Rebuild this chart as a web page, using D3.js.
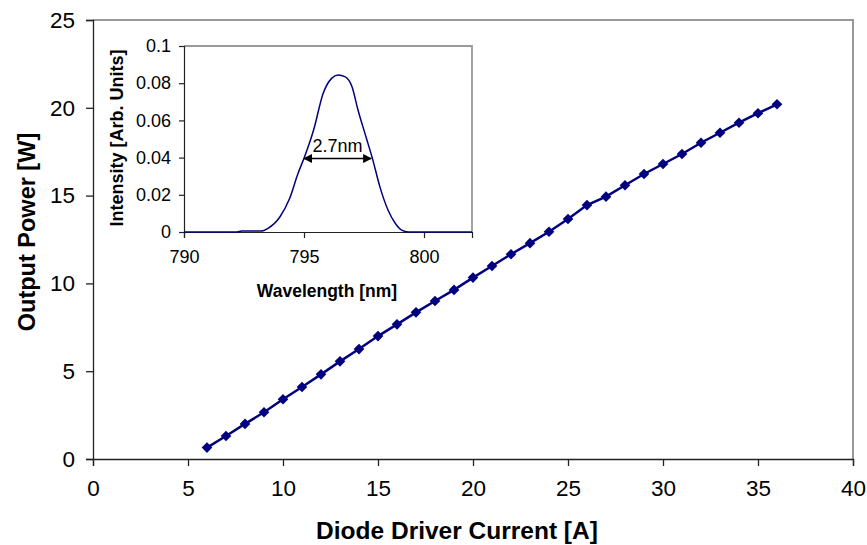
<!DOCTYPE html>
<html>
<head>
<meta charset="utf-8">
<script src="https://cdn.jsdelivr.net/npm/d3@7"></script>
<style>
  html, body { margin: 0; padding: 0; background: #fff; }
  svg { display: block; font-family: "Liberation Sans", Arial, sans-serif; }
</style>
</head>
<body>
<svg id="chart" width="867" height="545"></svg>
<script>
// Output power versus diode driver current
const current = [6, 7, 8, 9, 10, 11, 12, 13, 14, 15, 16, 17, 18, 19, 20, 21,
                 22, 23, 24, 25, 26, 27, 28, 29, 30, 31, 32, 33, 34, 35, 36];
const power = [0.65, 1.31, 2.0, 2.66, 3.4, 4.1, 4.82, 5.56, 6.26, 7.0, 7.67, 8.35,
               9.0, 9.63, 10.33, 10.99, 11.66, 12.29, 12.94, 13.67, 14.46, 14.94,
               15.59, 16.23, 16.8, 17.37, 18.01, 18.58, 19.15, 19.69, 20.2];
const xTicks = [0, 5, 10, 15, 20, 25, 30, 35, 40];
const yTicks = [0, 5, 10, 15, 20, 25];

// Emission spectrum (inset)
const wavelength = [790, 792.2, 792.4, 793.2, 793.5, 794.0, 794.4, 794.75, 795.0,
                    795.4, 795.8, 796.15, 796.42, 796.7, 797.0, 797.25, 797.6,
                    797.85, 798.16, 798.5, 798.8, 799.07, 799.35, 802];
const intensity = [0, 0, 0.0005, 0.0005, 0.002, 0.0082, 0.018, 0.0315, 0.0396,
                   0.0548, 0.0746, 0.0826, 0.0844, 0.0835, 0.0781, 0.0656, 0.0504,
                   0.0396, 0.0244, 0.0118, 0.0047, 0.001, 0, 0];
const insetXTicks = [790, 795, 800];
const insetYTicks = [0, 0.02, 0.04, 0.06, 0.08, 0.1];
const fwhm = { from: 795.0, to: 797.8, level: 0.0395, label: "2.7nm" };

const navy = "#000080";
const svg = d3.select("#chart");

// ---------- main plot ----------
const L = 93, R = 853, T = 20, B = 459;
const x = d3.scaleLinear().domain([0, 40]).range([L, R]);
const y = d3.scaleLinear().domain([0, 25]).range([B, T]);

// plot frame: gray top/right
svg.append("path")
  .attr("d", `M${L},${T}H${R}V${B}`)
  .attr("fill", "none").attr("stroke", "#999").attr("stroke-width", 2);

const xAxis = svg.append("g").attr("transform", `translate(0,${B})`)
  .call(d3.axisBottom(x).tickValues(xTicks).tickSize(7).tickPadding(14).tickFormat(d3.format("d")));
const yAxis = svg.append("g").attr("transform", `translate(${L},0)`)
  .call(d3.axisLeft(y).tickValues(yTicks).tickSize(7).tickPadding(11).tickFormat(d3.format("d")));
[xAxis, yAxis].forEach(g => {
  g.select(".domain").attr("stroke", "#222").attr("stroke-width", 1.3);
  g.selectAll(".tick line").attr("stroke", "#222").attr("stroke-width", 1.3);
  g.selectAll(".tick text").attr("fill", "#000").attr("font-size", 22.5)
    .attr("font-family", "'Liberation Sans', Arial, sans-serif");
});

svg.append("text")
  .attr("x", 457).attr("y", 539)
  .attr("text-anchor", "middle").attr("font-size", 24.5).attr("font-weight", "bold")
  .text("Diode Driver Current [A]");
svg.append("text")
  .attr("transform", `translate(35,232) rotate(-90)`)
  .attr("text-anchor", "middle").attr("font-size", 23.5).attr("font-weight", "bold")
  .text("Output Power [W]");

const pts = current.map((c, i) => [c, power[i]]);
svg.append("path")
  .datum(pts)
  .attr("fill", "none").attr("stroke", navy).attr("stroke-width", 2.5)
  .attr("d", d3.line().x(d => x(d[0])).y(d => y(d[1])));
svg.append("g").selectAll("path")
  .data(pts).enter().append("path")
  .attr("transform", d => `translate(${x(d[0])},${y(d[1])})`)
  .attr("d", d3.symbol().type(d3.symbolDiamond2).size(72))
  .attr("fill", navy);

// ---------- inset spectrum ----------
const iL = 184, iR = 472, iT = 46, iB = 232;
const ix = d3.scaleLinear().domain([790, 802]).range([iL, iR]);
const iy = d3.scaleLinear().domain([0, 0.1]).range([iB, iT]);

svg.append("rect").attr("x", iL).attr("y", iT).attr("width", iR - iL).attr("height", iB - iT)
  .attr("fill", "#fff");
svg.append("path")
  .attr("d", `M${iL},${iT}H${iR}V${iB}`)
  .attr("fill", "none").attr("stroke", "#999").attr("stroke-width", 1.8);

const ixAxis = svg.append("g").attr("transform", `translate(0,${iB})`)
  .call(d3.axisBottom(ix).tickValues(insetXTicks).tickSize(6).tickPadding(12).tickFormat(d3.format("d")));
const iyAxis = svg.append("g").attr("transform", `translate(${iL},0)`)
  .call(d3.axisLeft(iy).tickValues(insetYTicks).tickSize(5).tickPadding(8).tickFormat(d => d === 0 ? "0" : String(+d.toFixed(2))));
[ixAxis, iyAxis].forEach(g => {
  g.select(".domain").attr("stroke", "#222").attr("stroke-width", 1.2);
  g.selectAll(".tick line").attr("stroke", "#222").attr("stroke-width", 1.2);
  g.selectAll(".tick text").attr("fill", "#000").attr("font-size", 18)
    .attr("font-family", "'Liberation Sans', Arial, sans-serif");
});

svg.append("text")
  .attr("x", 327).attr("y", 297)
  .attr("text-anchor", "middle").attr("font-size", 17.5).attr("font-weight", "bold")
  .text("Wavelength [nm]");
svg.append("text")
  .attr("transform", `translate(123,138) rotate(-90)`)
  .attr("text-anchor", "middle").attr("font-size", 18).attr("font-weight", "bold")
  .text("Intensity [Arb. Units]");

svg.append("path")
  .datum(wavelength.map((w, i) => [w, intensity[i]]))
  .attr("fill", "none").attr("stroke", navy).attr("stroke-width", 1.5)
  .attr("d", d3.line().x(d => ix(d[0])).y(d => iy(d[1])).curve(d3.curveMonotoneX));

// FWHM arrow
const defs = svg.append("defs");
defs.append("marker").attr("id", "ah").attr("viewBox", "0 0 10 10")
  .attr("refX", 9).attr("refY", 5).attr("markerWidth", 9).attr("markerHeight", 9)
  .attr("markerUnits", "userSpaceOnUse").attr("orient", "auto-start-reverse")
  .append("path").attr("d", "M0,0L10,5L0,10z").attr("fill", "#000");
svg.append("line")
  .attr("x1", ix(fwhm.from)).attr("x2", ix(fwhm.to))
  .attr("y1", iy(fwhm.level)).attr("y2", iy(fwhm.level))
  .attr("stroke", "#000").attr("stroke-width", 1.5)
  .attr("marker-start", "url(#ah)").attr("marker-end", "url(#ah)");
svg.append("text")
  .attr("x", (ix(fwhm.from) + ix(fwhm.to)) / 2).attr("y", iy(fwhm.level) - 7)
  .attr("text-anchor", "middle").attr("font-size", 18)
  .text(fwhm.label);
</script>
</body>
</html>
